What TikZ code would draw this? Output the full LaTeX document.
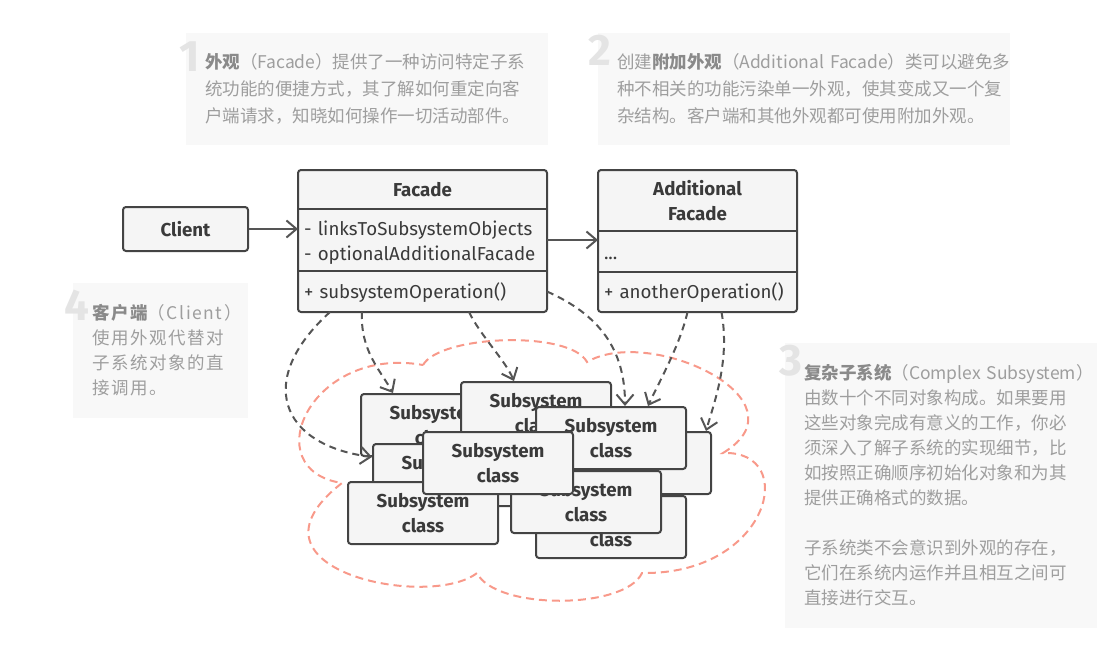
\documentclass[tikz,border=0pt]{standalone}
\usepackage{fontspec}
\setmainfont{Fira Sans}
\newfontfamily\cjk{Noto Sans CJK SC}
\usepackage{tikz}
\usetikzlibrary{arrows.meta,positioning,fit}

\definecolor{boxline}{HTML}{444444}
\definecolor{boxfill}{HTML}{F5F5F5}
\definecolor{txtdark}{HTML}{3A3A3A}
\definecolor{notebg}{HTML}{F8F8F8}
\definecolor{notetxt}{HTML}{9E9E9E}
\definecolor{notebold}{HTML}{8A8A8A}
\definecolor{notenum}{HTML}{E4E4E4}
\definecolor{cloudred}{HTML}{F8998A}
\definecolor{arrowgray}{HTML}{555555}

\begin{document}
\begin{tikzpicture}[x=1pt,y=-1pt,>={Straight Barb[length=10pt,width=17pt]},
  every node/.style={font=\fontsize{18.7}{25}\selectfont, text=txtdark},
  part/.style={fill=boxfill, minimum width=249, outer sep=0pt, inner xsep=6pt, inner ysep=0pt},
  field/.style={part, text width=237, align=left},
  outline/.style={draw=boxline, line width=2pt, rounded corners=3pt, inner sep=0pt},
  divider/.style={draw=boxline, line width=2pt},
  boxed/.style={draw=boxline, fill=boxfill, line width=2pt, rounded corners=3pt, minimum width=150, minimum height=62, align=center, font=\fontsize{18.7}{25}\selectfont\bfseries},
  note/.style={fill=notebg, text=notetxt, align=left, inner xsep=19pt, inner ysep=0pt, font=\cjk\fontsize{17.5}{27}\selectfont},
  notenum/.style={text=notenum, font=\fontsize{44}{44}\selectfont\bfseries, inner sep=0pt, anchor=base east},
  uses/.style={->, draw=arrowgray, line width=2pt, dash pattern=on 7pt off 5pt},
  link/.style={->, draw=arrowgray, line width=2pt},
  cloudline/.style={draw=cloudred, line width=2pt, dash pattern=on 8pt off 5pt}]
\useasboundingbox (0,0) rectangle (1105,658);

% notes
\node[note, text width=324, minimum height=112] (note1) at (367,89) {\textcolor{notebold}{\bfseries 外观}（Facade）提供了一种访问特定子系\\统功能的便捷方式，其了解如何重定向客\\户端请求，知晓如何操作一切活动部件。};
\node[note, text width=374, minimum height=112] (note2) at (804,89) {创建\textcolor{notebold}{\bfseries 附加外观}（\mbox{Additional Facade}）类可以避免多\\种不相关的功能污染单一外观，使其变成又一个复\\杂结构。客户端和其他外观都可使用附加外观。};
\node[note, text width=137, minimum height=135, font=\cjk\fontsize{17.5}{25}\selectfont\addfontfeature{LetterSpace=9}] (note4) at (160.5,350.5) {\textcolor{notebold}{\bfseries 客户端}（Client）\\使用外观代替对\\子系统对象的直\\接调用。};
\node[note, text width=274, minimum height=285, font=\cjk\fontsize{17.5}{25}\selectfont] (note3) at (941,485.5) {\textcolor{notebold}{\bfseries 复杂子系统}（\mbox{Complex Subsystem}）\\由数十个不同对象构成。如果要用\\这些对象完成有意义的工作，你必\\须深入了解子系统的实现细节，比\\如按照正确顺序初始化对象和为其\\提供正确格式的数据。\\[25pt]子系统类不会意识到外观的存在，\\它们在系统内运作并且相互之间可\\直接进行交互。};
\node[notenum] (num1) at (200,72) {1};
\node[notenum] (num2) at (611,66) {2};
\node[notenum] (num3) at (803,375) {3};
\node[notenum] (num4) at (90,320) {4};

% complex subsystem
\draw[cloudline] (423,365) .. controls (440,335) and (570,330) .. (587,362)
  .. controls (650,325) and (810,400) .. (723,453)
  .. controls (800,450) and (770,575) .. (642,573)
  .. controls (625,610) and (495,610) .. (477,573)
  .. controls (430,610) and (230,570) .. (342,483)
  .. controls (255,470) and (310,345) .. (423,365) -- cycle;
\node[boxed] (subA) at (436,425) {Subsystem\\class};
\node[boxed] (subB) at (536,413) {Subsystem\\class};
\node[boxed] (subF) at (448,475) {Subsystem\\class};
\node[boxed] (subD) at (636,463) {Subsystem\\class};
\node[boxed] (subC) at (611,438) {Subsystem\\class};
\node[boxed] (subI) at (611,527) {Subsystem\\class};
\node[boxed] (subH) at (586,502) {Subsystem\\class};
\node[boxed] (subE) at (423,513) {Subsystem\\class};
\node[boxed] (subG) at (498,463) {Subsystem\\class};

% client and facades
\node[boxed, minimum width=125, minimum height=44] (client) at (185.5,229) {Client};

\node[part, minimum height=39, font=\fontsize{18.7}{25}\selectfont\bfseries] (facadeHead) at (422.5,189.5) {Facade};
\node[field, minimum height=62, below=0pt of facadeHead] (facadeField) {\rule{0pt}{20pt}- linksToSubsystemObjects\\- optionalAdditionalFacade};
\node[field, minimum height=41, below=0pt of facadeField] (facadeMeth) {\rule{0pt}{17pt}+ subsystemOperation()};
\node[outline, fit=(facadeHead)(facadeMeth)] (facade) {};
\draw[divider] (facadeField.north west) -- (facadeField.north east)
  (facadeField.south west) -- (facadeField.south east);

\node[part, minimum width=199, minimum height=61, align=center, font=\fontsize{18.7}{25}\selectfont\bfseries] (addHead) at (697.5,200.5) {Additional\\Facade};
\node[field, minimum width=199, text width=187, minimum height=41, below=0pt of addHead] (addField) {\rule{0pt}{17pt}...};
\node[field, minimum width=199, text width=187, minimum height=40, below=0pt of addField] (addMeth) {\rule{0pt}{17pt}+ anotherOperation()};
\node[outline, fit=(addHead)(addMeth)] (addFacade) {};
\draw[divider] (addField.north west) -- (addField.north east)
  (addField.south west) -- (addField.south east);

% links
\draw[link] (client) -- (client -| facadeField.west);
\draw[link] (facadeField.east) -- (facadeField.east -| addField.west);

\draw[uses] ([xshift=32pt]facadeMeth.south west) .. controls (255,380) and (280,445) .. ([yshift=18pt]subF.west);
\draw[uses] ([xshift=64pt]facadeMeth.south west) .. controls (360,350) and (380,370) .. ([xshift=-43pt]subA.north);
\draw[uses] ([xshift=-78pt]facadeMeth.south east) .. controls (480,335) and (505,360) .. ([xshift=-22pt]subB.north);
\draw[uses] (facadeMeth.east) .. controls (600,315) and (625,350) .. ([xshift=14pt]subC.north);
\draw[uses] ([xshift=-10pt]addMeth.south) .. controls (680,345) and (660,380) .. ([xshift=37pt]subC.north);
\draw[uses] ([xshift=24pt]addMeth.south) .. controls (730,360) and (715,400) .. ([xshift=-6pt]subD.north east);
\end{tikzpicture}
\end{document}
